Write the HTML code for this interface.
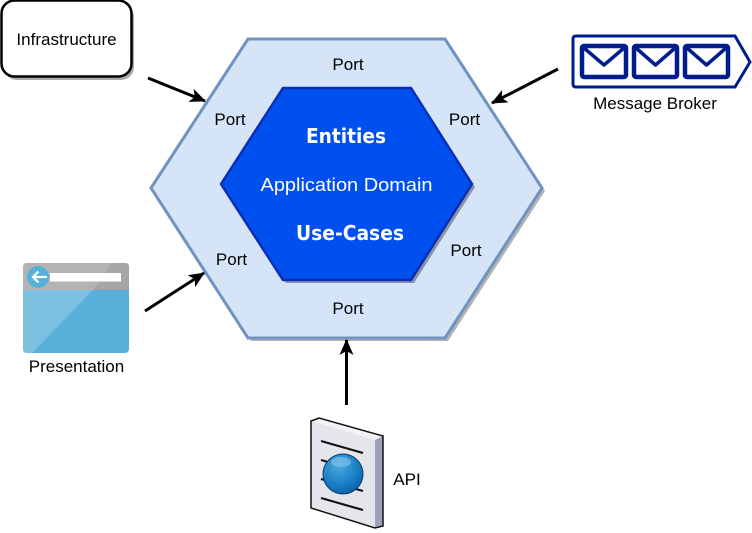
<!DOCTYPE html>
<html><head><meta charset="utf-8"><style>
html,body{margin:0;padding:0;background:#fff;width:752px;height:533px;overflow:hidden}
svg{display:block}
text{font-family:"Liberation Sans",sans-serif;font-size:17px;fill:#000;text-anchor:middle}
.b{font-family:"DejaVu Sans",sans-serif;font-weight:bold;font-stretch:condensed;fill:#fff;font-size:20.5px}
</style></head><body>
<svg width="752" height="533" viewBox="0 0 752 533" xmlns="http://www.w3.org/2000/svg">
<defs>
<marker id="a" markerWidth="16" markerHeight="14" refX="15" refY="7" orient="auto" markerUnits="userSpaceOnUse"><path d="M0,0L16,7L0,14L4,7Z" fill="#000"/></marker>
<radialGradient id="g" cx=".4" cy=".3" r=".75"><stop offset="0" stop-color="#4fa8dc"/><stop offset=".6" stop-color="#1b80c8"/><stop offset="1" stop-color="#0b5fa5"/></radialGradient>
</defs>
<!-- outer hexagon -->
<polygon points="151,188 248,39 445,39 542,188 445,338 248,338" fill="#999" opacity=".75" transform="translate(3,3)"/>
<polygon points="151,188 248,39 445,39 542,188 445,338 248,338" fill="#d6e4f8" stroke="#7094bf" stroke-width="3"/>
<!-- inner hexagon -->
<polygon points="221,184 283,88 411,88 472,184 411,280 283,280" fill="#8a93a8" transform="translate(3,3)"/>
<polygon points="221,184 283,88 411,88 472,184 411,280 283,280" fill="#0050ef" stroke="#0a2fb0" stroke-width="2.5"/>
<text class="b" x="346" y="143" textLength="80" lengthAdjust="spacingAndGlyphs">Entities</text>
<text x="346.500" y="191" style="font-size:18.5px;fill:#fff" textLength="172" lengthAdjust="spacingAndGlyphs">Application Domain</text>
<text class="b" x="350" y="240" textLength="108" lengthAdjust="spacingAndGlyphs">Use-Cases</text>
<!-- ports -->
<text x="348" y="70">Port</text>
<text x="230" y="125">Port</text>
<text x="464.500" y="125">Port</text>
<text x="231.500" y="265">Port</text>
<text x="466" y="256">Port</text>
<text x="348" y="314">Port</text>
<!-- infrastructure -->
<rect x="4" y="4" width="130" height="76" rx="13" fill="#aaa"/>
<rect x="1.500" y="0.500" width="130" height="76" rx="13" fill="#fff" stroke="#000" stroke-width="2.500"/>
<text x="66.500" y="45">Infrastructure</text>
<!-- message broker -->
<path d="M576,36H735L750,62L735,87H576Q573,87 573,84V39Q573,36 576,36Z" fill="#fff" stroke="#001d8c" stroke-width="3"/>
<g fill="#fff" stroke="#001d8c" stroke-width="4.500" stroke-linejoin="round">
<rect x="582" y="46" width="44" height="31" rx="2"/><path d="M584,48L604,65L624,48" fill="none" stroke-width="3.500"/>
<rect x="634" y="46" width="43" height="31" rx="2"/><path d="M636,48L655.500,65L675,48" fill="none" stroke-width="3.500"/>
<rect x="685" y="46" width="43" height="31" rx="2"/><path d="M687,48L706.500,65L726,48" fill="none" stroke-width="3.500"/>
</g>
<text x="655" y="109">Message Broker</text>
<!-- presentation -->
<rect x="23" y="263" width="106" height="90" rx="4" fill="#57b0d9"/>
<path d="M23,290H93L32,353H27Q23,353 23,349Z" fill="#7cc1e0"/>
<path d="M27,263H125Q129,263 129,267V290H23V267Q23,263 27,263Z" fill="#b3b3b3"/>
<path d="M112,263H125Q129,263 129,267V290H93Z" fill="#a6a6a6"/>
<rect x="50" y="273" width="71" height="8.500" fill="#fff"/>
<circle cx="38" cy="277" r="11" fill="#57b0d9"/>
<path d="M47,277H33M38.500,271.500L33,277L38.500,282.500" fill="none" stroke="#fff" stroke-width="2.200"/>
<text x="76.500" y="372">Presentation</text>
<!-- API -->
<polygon points="311,421 319,418 383,436 383,526 375,528 311,508" fill="#e4e6ec" stroke="#222" stroke-width="1"/>
<polygon points="375,440 383,436 383,526 375,528" fill="#9aa3b8"/>
<polygon points="311,421 319,418 383,436 375,440" fill="#f2f3f6"/>
<path d="M311,421L319,418L383,436V526L375,528L311,508Z" fill="none" stroke="#111" stroke-width="1.500"/>
<g stroke="#111" stroke-width="2.200"><line x1="321" y1="441" x2="363" y2="453"/><line x1="321" y1="460" x2="363" y2="472"/><line x1="321" y1="479" x2="363" y2="491"/><line x1="321" y1="498" x2="363" y2="510"/></g>
<circle cx="343" cy="474" r="20" fill="url(#g)" stroke="#0a3d70" stroke-width="1"/>
<ellipse cx="341" cy="462" rx="10" ry="5" fill="#7fc0e8" opacity=".7"/>
<text x="407" y="485">API</text>
<!-- arrows -->
<g stroke="#000" stroke-width="3" fill="none">
<line x1="148" y1="78" x2="205" y2="101" marker-end="url(#a)"/>
<line x1="558" y1="69" x2="492" y2="103" marker-end="url(#a)"/>
<line x1="145" y1="311" x2="204" y2="273" marker-end="url(#a)"/>
<line x1="346.500" y1="405" x2="346.500" y2="340" marker-end="url(#a)"/>
</g>
</svg>
</body></html>
